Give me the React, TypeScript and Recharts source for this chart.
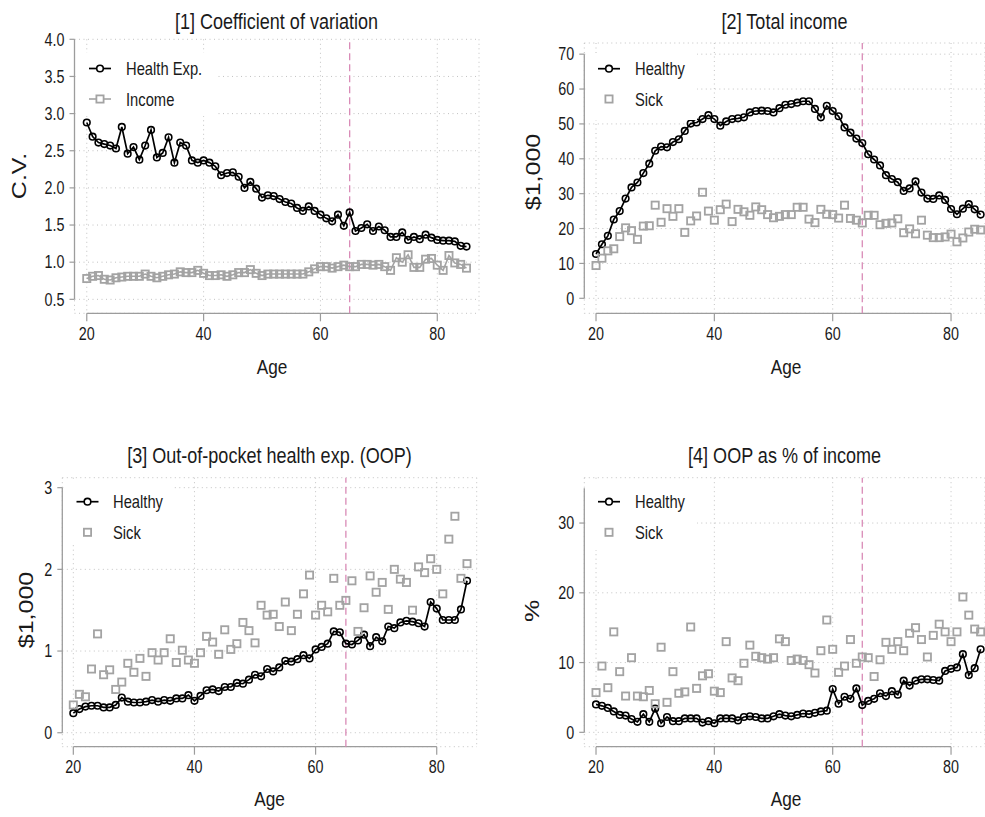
import React from 'react';
import { ComposedChart, Line, XAxis, YAxis, CartesianGrid, ReferenceLine, Legend } from 'recharts';

// age grid shared by all four panels
const ages = [
  20, 21, 22, 23, 24, 25, 26, 27, 28, 29,
  30, 31, 32, 33, 34, 35, 36, 37, 38, 39,
  40, 41, 42, 43, 44, 45, 46, 47, 48, 49,
  50, 51, 52, 53, 54, 55, 56, 57, 58, 59,
  60, 61, 62, 63, 64, 65, 66, 67, 68, 69,
  70, 71, 72, 73, 74, 75, 76, 77, 78, 79,
  80, 81, 82, 83, 84, 85,
];

// [1] coefficient of variation
const cvHealthExp = [
  2.88, 2.69, 2.61, 2.59, 2.57, 2.53, 2.82, 2.46, 2.55, 2.38,
  2.57, 2.78, 2.41, 2.47, 2.68, 2.34, 2.61, 2.57, 2.37, 2.34,
  2.37, 2.34, 2.29, 2.17, 2.2, 2.21, 2.15, 2.0, 2.08, 1.99,
  1.87, 1.9, 1.89, 1.85, 1.81, 1.79, 1.73, 1.69, 1.75, 1.69,
  1.64, 1.59, 1.55, 1.64, 1.49, 1.67, 1.42, 1.46, 1.51, 1.42,
  1.48, 1.43, 1.34, 1.34, 1.4, 1.3, 1.34, 1.31, 1.37, 1.33,
  1.3, 1.29, 1.29, 1.28, 1.22, 1.21,
];
const cvIncome = [
  0.78, 0.81, 0.82, 0.77, 0.76, 0.79, 0.8, 0.81, 0.81, 0.81,
  0.84, 0.81, 0.79, 0.81, 0.83, 0.84, 0.87, 0.86, 0.86, 0.89,
  0.85, 0.82, 0.82, 0.83, 0.81, 0.83, 0.86, 0.86, 0.9, 0.85,
  0.82, 0.84, 0.84, 0.84, 0.84, 0.84, 0.84, 0.84, 0.87, 0.91,
  0.94, 0.94, 0.92, 0.94, 0.96, 0.94, 0.94, 0.97, 0.97, 0.96,
  0.97, 0.94, 0.89, 1.06, 1.0, 1.1, 0.93, 0.93, 1.04, 1.05,
  0.96, 0.89, 1.09, 0.99, 0.97, 0.92,
];

// [2] total income, $1,000
const incomeHealthy = [
  12.7, 15.5, 17.9, 22.6, 25.0, 28.6, 31.8, 33.2, 35.9, 38.6,
  42.3, 43.5, 43.3, 44.8, 45.6, 48.0, 50.1, 50.4, 51.4, 52.5,
  51.4, 49.5, 50.7, 51.4, 51.6, 51.9, 53.3, 53.7, 53.8, 53.7,
  53.3, 54.5, 55.5, 55.7, 56.1, 56.5, 56.5, 54.3, 51.9, 55.2,
  53.7, 52.2, 49.0, 47.5, 45.8, 44.5, 41.3, 39.8, 38.1, 35.3,
  34.2, 33.3, 30.8, 31.5, 33.5, 30.3, 28.6, 28.5, 29.5, 28.2,
  25.6, 24.1, 25.7, 27.0, 25.5, 24.0,
];
const incomeSick = [
  9.4, 11.5, 13.6, 14.2, 17.7, 20.2, 19.4, 16.9, 20.7, 20.8,
  26.7, 21.8, 25.7, 23.5, 25.7, 18.9, 22.2, 23.6, 30.4, 25.0,
  22.4, 25.4, 27.0, 22.0, 25.5, 24.8, 23.8, 26.2, 25.4, 24.0,
  23.1, 23.5, 24.0, 24.0, 26.1, 26.1, 22.7, 21.7, 25.5, 24.1,
  24.0, 23.0, 26.7, 22.9, 22.4, 21.6, 23.8, 23.8, 21.1, 21.5,
  21.6, 22.8, 18.8, 19.9, 18.5, 22.4, 18.1, 17.4, 17.4, 17.6,
  18.4, 16.2, 17.3, 19.0, 19.8, 19.6,
];

// [3] out-of-pocket health expenditure, $1,000
const oopHealthy = [
  0.24, 0.29, 0.32, 0.33, 0.33, 0.31, 0.31, 0.34, 0.43, 0.38,
  0.37, 0.37, 0.38, 0.4, 0.38, 0.4, 0.39, 0.42, 0.42, 0.46,
  0.39, 0.45, 0.52, 0.53, 0.51, 0.56, 0.56, 0.61, 0.6, 0.65,
  0.71, 0.69, 0.78, 0.75, 0.8, 0.88, 0.87, 0.9, 0.95, 0.91,
  1.02, 1.05, 1.09, 1.24, 1.23, 1.09, 1.08, 1.13, 1.2, 1.06,
  1.17, 1.12, 1.3, 1.28, 1.35, 1.37, 1.36, 1.34, 1.3, 1.6,
  1.52, 1.38, 1.38, 1.38, 1.51, 1.86,
];
const oopSick = [
  0.34, 0.47, 0.44, 0.78, 1.21, 0.71, 0.77, 0.53, 0.62, 0.85,
  0.74, 0.91, 0.69, 0.98, 0.89, 0.98, 1.15, 0.86, 1.01, 0.89,
  0.85, 0.98, 1.18, 1.11, 0.96, 1.26, 1.02, 1.09, 1.35, 1.25,
  1.1, 1.56, 1.44, 1.45, 1.3, 1.6, 1.25, 1.45, 1.7, 1.93,
  1.44, 1.56, 1.48, 1.89, 1.56, 1.62, 1.86, 1.24, 1.53, 1.92,
  1.72, 1.84, 1.51, 2.0, 1.88, 1.84, 1.5, 2.03, 1.96, 2.13,
  2.0, 1.7, 2.37, 2.65, 1.89, 2.07,
];

// [4] OOP as % of income
const oopShareHealthy = [
  4.0, 3.8, 3.5, 3.0, 2.5, 2.4, 1.9, 1.5, 2.6, 1.5,
  3.4, 1.3, 2.2, 1.6, 1.6, 2.0, 2.0, 2.0, 1.4, 1.6,
  1.3, 2.0, 2.0, 2.0, 1.7, 2.2, 2.3, 2.2, 2.0, 2.0,
  2.3, 2.6, 2.4, 2.3, 2.5, 2.7, 2.6, 2.8, 3.0, 3.1,
  6.2, 4.1, 5.1, 4.8, 6.3, 3.9, 4.5, 4.8, 5.6, 5.2,
  5.9, 5.4, 7.4, 6.7, 7.4, 7.6, 7.6, 7.5, 7.4, 8.8,
  9.1, 9.3, 11.2, 8.2, 9.2, 11.9,
];
const oopShareSick = [
  5.7, 9.5, 6.4, 14.4, 8.7, 5.2, 10.7, 5.2, 5.1, 6.0,
  4.1, 12.2, 4.3, 8.7, 5.6, 5.8, 15.1, 6.3, 8.1, 8.4,
  5.9, 5.7, 13.0, 7.8, 7.4, 9.9, 12.5, 10.9, 10.7, 10.5,
  10.7, 13.4, 13.0, 10.3, 10.5, 10.3, 9.7, 8.5, 11.7, 16.1,
  11.9, 8.6, 9.5, 13.3, 9.9, 10.8, 10.7, 8.0, 10.4, 12.9,
  11.9, 13.0, 11.7, 14.2, 15.0, 13.3, 10.8, 13.9, 15.5, 14.4,
  13.0, 14.4, 19.4, 16.8, 14.8, 14.4,
];

const xTicks = [20, 40, 60, 80];
const cvTicks = [0.5, 1.0, 1.5, 2.0, 2.5, 3.0, 3.5, 4.0];
const incomeTicks = [0, 10, 20, 30, 40, 50, 60, 70];
const oopTicks = [0, 1, 2, 3];
const shareTicks = [0, 10, 20, 30];
const retirementAge = 65;

const FONT = "'Liberation Sans', Arial, sans-serif";
const TEXT = '#1a1a1a';
const GRAY = '#a3a3a3';
const AXIS = '#9c9c9c';
const GRID = '#c2c2c2';
const PINK = '#d98bb7';

// the original is squeezed horizontally, so text looks condensed
const SQ = 0.82;
const squeeze = (x: number) => `matrix(${SQ} 0 0 1 ${x * (1 - SQ)} 0)`;

type Row = { age: number; a: number; b: number };
const toRows = (a: number[], b: number[]): Row[] => ages.map((age, i) => ({ age, a: a[i], b: b[i] }));

const renderCircle = (p: any) => {
  if (p.cx == null || p.cy == null) return <g key={p.index} />;
  return <circle key={p.index} cx={p.cx} cy={p.cy} r={3.3} fill="none" stroke="#000" strokeWidth={1.6} />;
};

const renderSquare = (p: any) => {
  if (p.cx == null || p.cy == null) return <g key={p.index} />;
  return (
    <rect key={p.index} x={p.cx - 3.6} y={p.cy - 3.6} width={7.2} height={7.2}
      fill="none" stroke={GRAY} strokeWidth={1.8} />
  );
};

const makeXTick = () => (props: any) => {
  const { x, y, payload } = props;
  return (
    <text x={x} y={y} dy="0.71em" textAnchor="middle" fontSize={17.5} fontFamily={FONT} fill={TEXT}
      transform={squeeze(x)}>{payload.value}</text>
  );
};

const makeYTick = (fmt?: (v: number) => string) => (props: any) => {
  const { x, y, payload } = props;
  return (
    <text x={x} y={y} dy="0.355em" textAnchor="end" fontSize={17.5} fontFamily={FONT} fill={TEXT}
      transform={squeeze(x)}>{fmt ? fmt(payload.value) : payload.value}</text>
  );
};

type Box = { left: number; top: number; width: number; height: number; rows: [number, number]; iconX: number; textX: number };

const LegendBox = ({ box, names, connectB }: { box: Box; names: [string, string]; connectB: boolean }) => (
  <svg width={box.width} height={box.height} style={{ display: 'block' }}>
    <line x1={box.iconX - 11} x2={box.iconX + 11} y1={box.rows[0]} y2={box.rows[0]} stroke="#000" strokeWidth={1.7} />
    <circle cx={box.iconX} cy={box.rows[0]} r={3.3} fill="#fff" stroke="#000" strokeWidth={1.6} />
    <text x={box.textX} y={box.rows[0]} dominantBaseline="central" fontSize={18} fontFamily={FONT} fill={TEXT}
      transform={squeeze(box.textX)}>{names[0]}</text>
    {connectB && (
      <line x1={box.iconX - 11} x2={box.iconX + 11} y1={box.rows[1]} y2={box.rows[1]} stroke={GRAY} strokeWidth={1.6} />
    )}
    <rect x={box.iconX - 3.6} y={box.rows[1] - 3.6} width={7.2} height={7.2} fill="#fff" stroke={GRAY} strokeWidth={1.8} />
    <text x={box.textX} y={box.rows[1]} dominantBaseline="central" fontSize={18} fontFamily={FONT} fill={TEXT}
      transform={squeeze(box.textX)}>{names[1]}</text>
  </svg>
);

type PanelProps = {
  rows: Row[];
  left: number;
  top: number;
  width: number;
  height: number;
  margin: { top: number; right: number; bottom: number; left: number };
  yAxisWidth: number;
  xDomain: [number, number];
  yDomain: [number, number];
  yTicks: number[];
  yAxisTop: number;
  yFormat?: (v: number) => string;
  names: [string, string];
  connectB: boolean;
  box: Box;
};

const Panel: React.FC<PanelProps> = (p) => (
  <div style={{ position: 'absolute', left: p.left, top: p.top, width: p.width, height: p.height }}>
    <ComposedChart width={p.width} height={p.height} data={p.rows} margin={p.margin}>
      <CartesianGrid stroke={GRID} strokeDasharray="1 3.5" strokeWidth={1} />
      <XAxis type="number" dataKey="age" domain={p.xDomain} ticks={xTicks} allowDataOverflow interval={0}
        height={30} axisLine={false} tickLine={{ stroke: AXIS, strokeWidth: 1.2 }} tickSize={8} tickMargin={6}
        tick={makeXTick()} />
      <YAxis type="number" domain={p.yDomain} ticks={p.yTicks} allowDataOverflow interval={0}
        width={p.yAxisWidth} axisLine={false} tickLine={{ stroke: AXIS, strokeWidth: 1.2 }} tickSize={5} tickMargin={5}
        tick={makeYTick(p.yFormat)} />
      {/* Stata style axes: lines only span the labelled range */}
      <ReferenceLine segment={[{ x: xTicks[0], y: p.yDomain[0] }, { x: xTicks[xTicks.length - 1], y: p.yDomain[0] }]}
        stroke={AXIS} strokeWidth={1.3} ifOverflow="visible" />
      <ReferenceLine segment={[{ x: p.xDomain[0], y: p.yTicks[0] }, { x: p.xDomain[0], y: p.yAxisTop }]}
        stroke={AXIS} strokeWidth={1.3} ifOverflow="visible" />
      <ReferenceLine x={retirementAge} stroke={PINK} strokeWidth={1.3} strokeDasharray="7 4" />
      <Line type="linear" dataKey="a" stroke="#000" strokeWidth={1.7} dot={renderCircle} activeDot={false}
        isAnimationActive={false} legendType="none" />
      <Line type="linear" dataKey="b" stroke={p.connectB ? GRAY : 'none'} strokeWidth={1.6} dot={renderSquare}
        activeDot={false} isAnimationActive={false} legendType="none" />
      <Legend layout="vertical" align="center" verticalAlign="middle"
        wrapperStyle={{ left: p.box.left, top: p.box.top, width: p.box.width, height: p.box.height, background: '#fff', margin: 0, padding: 0 }}
        content={() => <LegendBox box={p.box} names={p.names} connectB={p.connectB} />} />
    </ComposedChart>
  </div>
);

const titles = [
  { text: '[1] Coefficient of variation', x: 276.5, y: 29 },
  { text: '[2] Total income', x: 784.6, y: 29 },
  { text: '[3] Out-of-pocket health exp. (OOP)', x: 269.5, y: 463 },
  { text: '[4] OOP as % of income', x: 784.6, y: 463 },
];
const xTitles = [
  { x: 272, y: 374 },
  { x: 786, y: 374 },
  { x: 269.5, y: 806 },
  { x: 786, y: 806 },
];
const yTitles = [
  { text: 'C.V.', x: 19, y: 176 },
  { text: '$1,000', x: 533, y: 172 },
  { text: '$1,000', x: 26, y: 610 },
  { text: '%', x: 532, y: 611 },
];

export default function App() {
  return (
    <div style={{ position: 'absolute', left: 0, top: 0, width: 985, height: 817, background: '#fff', overflow: 'hidden' }}>
      <Panel rows={toRows(cvHealthExp, cvIncome)} left={0} top={0} width={492} height={400}
        margin={{ top: 39.3, right: 13, bottom: 56.7, left: 0 }} yAxisWidth={74.5}
        xDomain={[17.9, 87.14]} yDomain={[0.312, 4.0]} yTicks={cvTicks} yAxisTop={4.0}
        yFormat={(v) => v.toFixed(1)} names={['Health Exp.', 'Income']} connectB
        box={{ left: 77, top: 53, width: 141, height: 63, rows: [15.5, 46], iconX: 23, textX: 49 }} />
      <Panel rows={toRows(incomeHealthy, incomeSick)} left={492} top={0} width={493} height={400}
        margin={{ top: 43, right: 0, bottom: 56.7, left: 0 }} yAxisWidth={92.3}
        xDomain={[18.02, 85.74]} yDomain={[-4.3, 73.2]} yTicks={incomeTicks} yAxisTop={70}
        names={['Healthy', 'Sick']} connectB={false}
        box={{ left: 94, top: 53, width: 111, height: 67, rows: [15.7, 46], iconX: 23, textX: 49 }} />
      <Panel rows={toRows(oopHealthy, oopSick)} left={0} top={430} width={492} height={387}
        margin={{ top: 47.7, right: 15.3, bottom: 40.3, left: 0 }} yAxisWidth={62.3}
        xDomain={[18.18, 86.6]} yDomain={[-0.171, 3.122]} yTicks={oopTicks} yAxisTop={3}
        names={['Healthy', 'Sick']} connectB={false}
        box={{ left: 64, top: 50, width: 108, height: 63, rows: [21.7, 52.3], iconX: 23.5, textX: 49 }} />
      <Panel rows={toRows(oopShareHealthy, oopShareSick)} left={492} top={430} width={493} height={387}
        margin={{ top: 47.7, right: 0, bottom: 40.3, left: 0 }} yAxisWidth={92.3}
        xDomain={[18.02, 85.74]} yDomain={[-2.06, 36.5]} yTicks={shareTicks} yAxisTop={35}
        names={['Healthy', 'Sick']} connectB={false}
        box={{ left: 94, top: 50, width: 111, height: 70, rows: [21.7, 52.3], iconX: 23, textX: 49 }} />
      <svg width={985} height={817} style={{ position: 'absolute', left: 0, top: 0, pointerEvents: 'none' }}>
        {titles.map((t) => (
          <text key={t.text} x={t.x} y={t.y} textAnchor="middle" fontSize={22} fontFamily={FONT} fill={TEXT}
            transform={squeeze(t.x)}>{t.text}</text>
        ))}
        {xTitles.map((t, i) => (
          <text key={i} x={t.x} y={t.y} textAnchor="middle" fontSize={21} fontFamily={FONT} fill={TEXT}
            transform={squeeze(t.x)}>Age</text>
        ))}
        {yTitles.map((t, i) => (
          <text key={i} x={t.x} y={t.y} textAnchor="middle" dominantBaseline="central" fontSize={25}
            fontFamily={FONT} fill={TEXT} transform={`${squeeze(t.x)} rotate(-90 ${t.x} ${t.y})`}>{t.text}</text>
        ))}
      </svg>
    </div>
  );
}
